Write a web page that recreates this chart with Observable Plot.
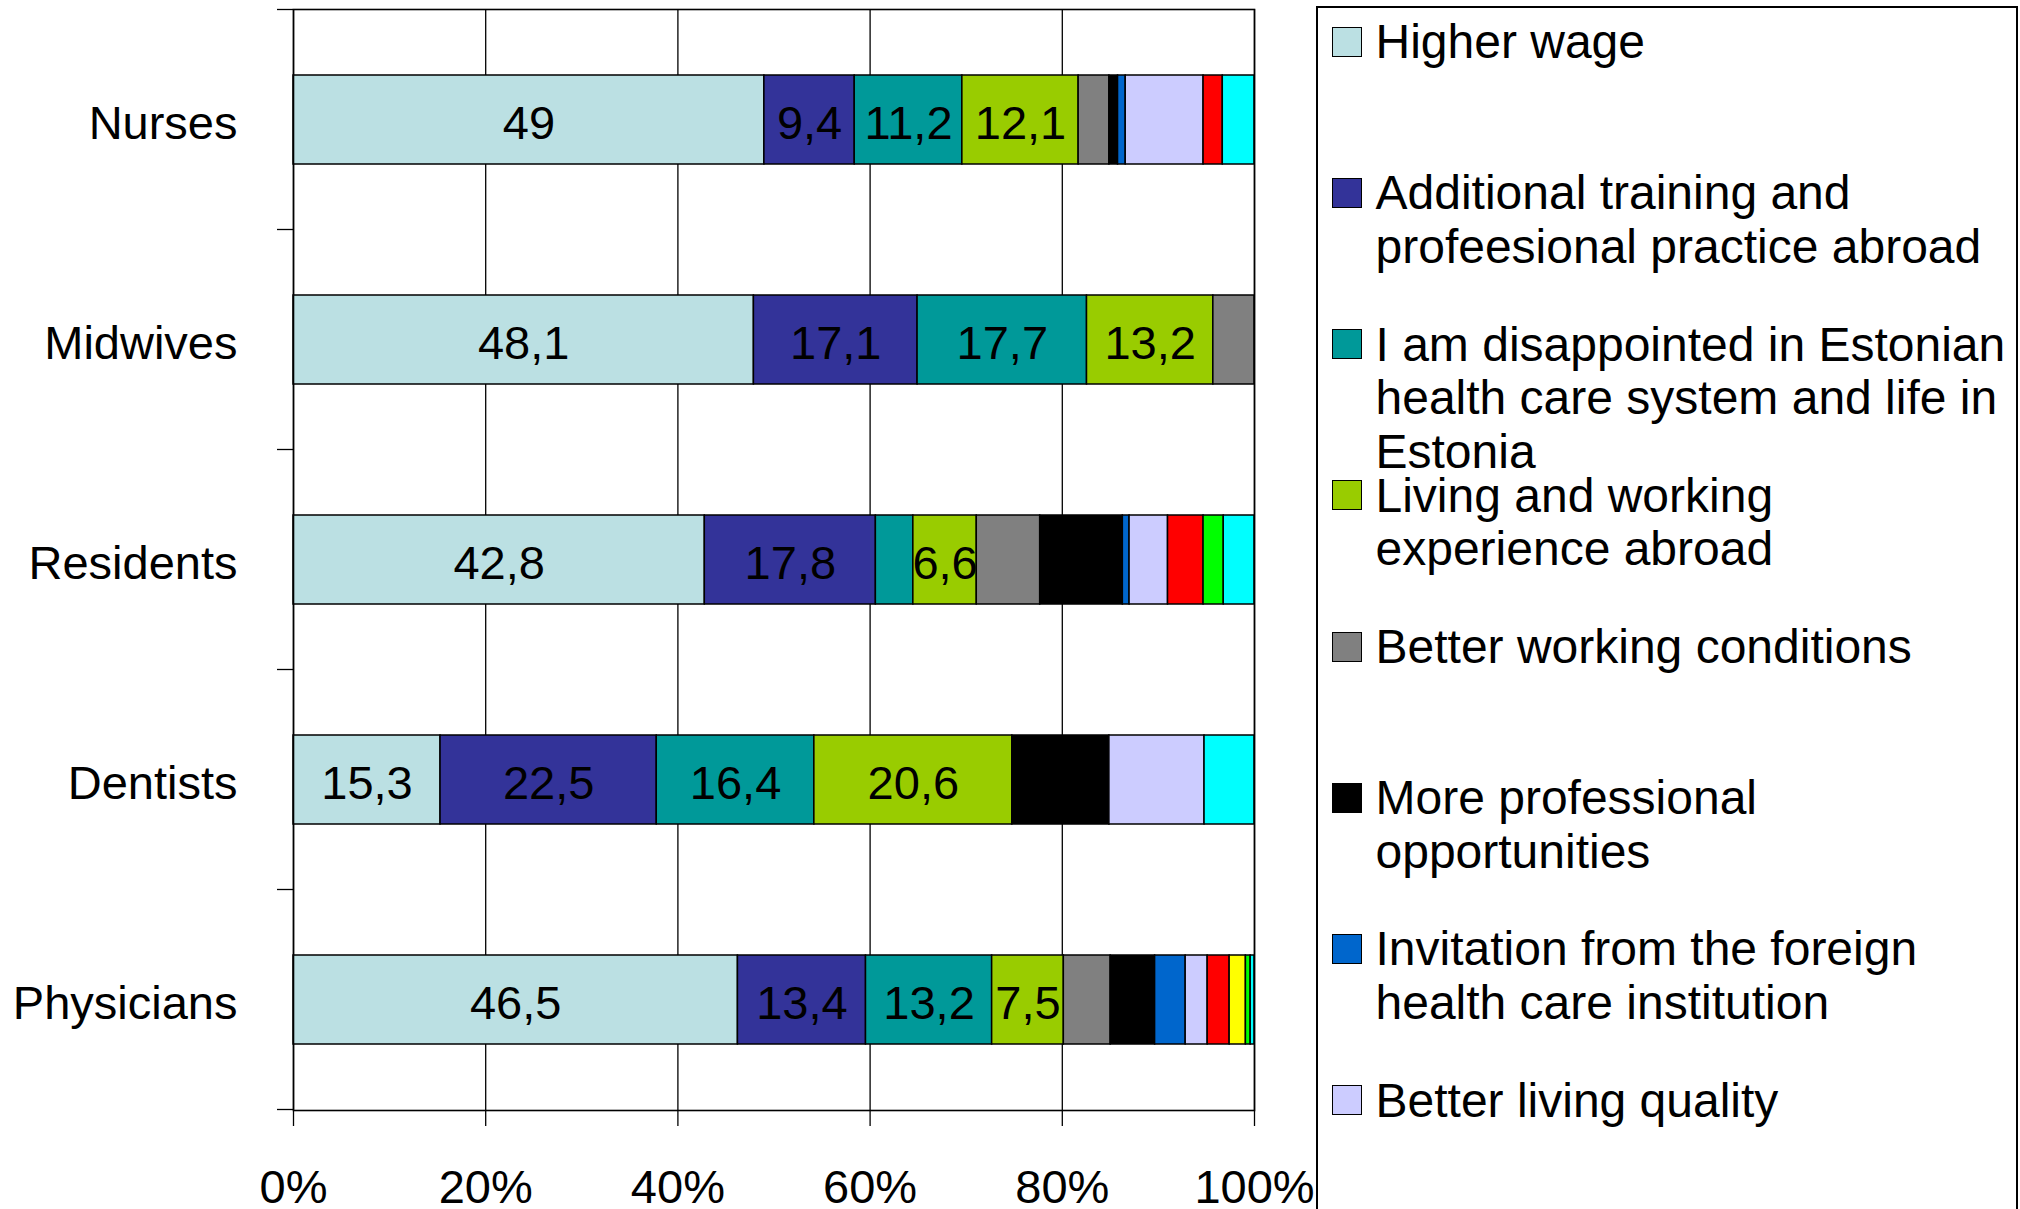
<!DOCTYPE html>
<html><head><meta charset="utf-8">
<script src="https://cdn.jsdelivr.net/npm/d3@7"></script>
<script src="https://cdn.jsdelivr.net/npm/@observablehq/plot@0.6"></script>
<style>
html,body{margin:0;padding:0;background:#fff;overflow:hidden;}
#wrap{position:relative;width:2020px;height:1209px;overflow:hidden;font-family:"Liberation Sans",Arial,sans-serif;}
#chart{position:absolute;left:0;top:0;}
#legend{position:absolute;left:1316px;top:6px;width:702px;height:1300px;border:2px solid #000;box-sizing:border-box;background:#fff;}
.sw{position:absolute;width:30px;height:30px;border:1.5px solid #000;box-sizing:border-box;}
.lt{position:absolute;white-space:nowrap;font-size:48px;line-height:53.5px;color:#000;}
</style></head>
<body>
<div id="wrap"><div id="chart"></div><div id="legend"></div></div>
<script>
// ---- data ----
const professions = ["Nurses", "Midwives", "Residents", "Dentists", "Physicians"];
const reasons = [
  "Higher wage",
  "Additional training and professional practice abroad",
  "I am disappointed in Estonian health care system and life in Estonia",
  "Living and working experience abroad",
  "Better working conditions",
  "More professional opportunities",
  "Invitation from the foreign health care institution",
  "Better living quality",
  "Reason 9", "Reason 10", "Reason 11", "Reason 12"
];
const legendLabels = [
  "Higher wage",
  "Additional training and<br>profeesional practice abroad",
  "I am disappointed in Estonian<br>health care system and life in<br>Estonia",
  "Living and working<br>experience abroad",
  "Better working conditions",
  "More professional<br>opportunities",
  "Invitation from the foreign<br>health care institution",
  "Better living quality"
];
const colors = ["#BBE0E3", "#333399", "#009999", "#99CC00", "#808080", "#000000",
                "#0066CC", "#CCCCFF", "#FF0000", "#FFFF00", "#00FF00", "#00FFFF"];
const nurses     = [49,   9.4,  11.2, 12.1, 3.2, 0.9,  0.8, 8.1, 2.0, 0,   0,   3.3];
const midwives   = [48.1, 17.1, 17.7, 13.2, 4.3, 0,    0,   0,   0,   0,   0,   0];
const residents  = [42.8, 17.8, 3.9,  6.6,  6.6, 8.6,  0.7, 4.0, 3.7, 0,   2.1, 3.2];
const dentists   = [15.3, 22.5, 16.4, 20.6, 0,   10.1, 0,   9.9, 0,   0,   0,   5.2];
const physicians = [46.5, 13.4, 13.2, 7.5,  4.9, 4.65, 3.2, 2.3, 2.3, 1.7, 0.5, 0.4];
const xTicks = [0, 20, 40, 60, 80, 100];

const series = [nurses, midwives, residents, dentists, physicians];
const table = [];
professions.forEach((p, i) => {
  series[i].forEach((v, j) => {
    if (v > 0) table.push({profession: p, reason: reasons[j], idx: j, value: v});
  });
});
const fmt = v => String(v).replace(".", ",");
const tickFracs = xTicks.map(t => t / 100);

const chart = Plot.plot({
  width: 2020,
  height: 1209,
  marginLeft: 293,
  marginRight: 766,
  marginTop: 9,
  marginBottom: 99,
  style: {fontFamily: '"Liberation Sans", Arial, sans-serif', fontSize: "47px", background: "white", color: "black"},
  x: {domain: [0, 1]},
  y: {domain: professions, paddingInner: 0.596, paddingOuter: 0.298},
  color: {domain: reasons, range: colors},
  marks: [
    Plot.ruleX(tickFracs, {stroke: "black", strokeWidth: 1.3}),
    Plot.barX(table, Plot.stackX({offset: "normalize", x: "value", y: "profession", fill: "reason", stroke: "black", strokeWidth: 1.5})),
    Plot.text(table, Plot.stackX({offset: "normalize", x: "value", y: "profession",
      text: d => (d.idx < 4 && d.value >= 5) ? fmt(d.value) : null,
      fill: "black", fontSize: 47, dy: 4})),
    Plot.frame({stroke: "black", strokeWidth: 1.6}),
    Plot.axisX({ticks: tickFracs, tickFormat: d => Math.round(d * 100) + "%", tickSize: 16, tickPadding: 43, fontSize: 47, label: null, stroke: "black", strokeWidth: 1.3}),
    Plot.axisY({tickSize: 0, tickPadding: 56, fontSize: 47, label: null, dy: 4})
  ]
});
document.getElementById("chart").appendChild(chart);

// category boundary ticks on the left axis, from the y band scale
const ys = chart.scale("y"), xs = chart.scale("x");
const bw = ys.bandwidth;
const step = ys.apply(professions[1]) - ys.apply(professions[0]);
const bounds = professions.map(p => ys.apply(p) + bw / 2 - step / 2);
bounds.push(ys.apply(professions[professions.length - 1]) + bw / 2 + step / 2);
const x0 = xs.apply(0);
d3.select(chart).append("g")
  .attr("stroke", "black").attr("stroke-width", 1.3)
  .selectAll("line").data(bounds).join("line")
  .attr("x1", x0 - 16).attr("x2", x0)
  .attr("y1", d => d).attr("y2", d => d);

// legend
const legend = d3.select("#legend");
legendLabels.forEach((lab, i) => {
  const c = 41.7 + 151.2 * i;
  legend.append("div").attr("class", "sw")
    .style("left", "14px").style("top", (c - 23) + "px")
    .style("background", colors[i]);
  legend.append("div").attr("class", "lt")
    .style("left", "57.5px").style("top", (c - 34.5) + "px")
    .html(lab);
});
</script>
</body></html>
